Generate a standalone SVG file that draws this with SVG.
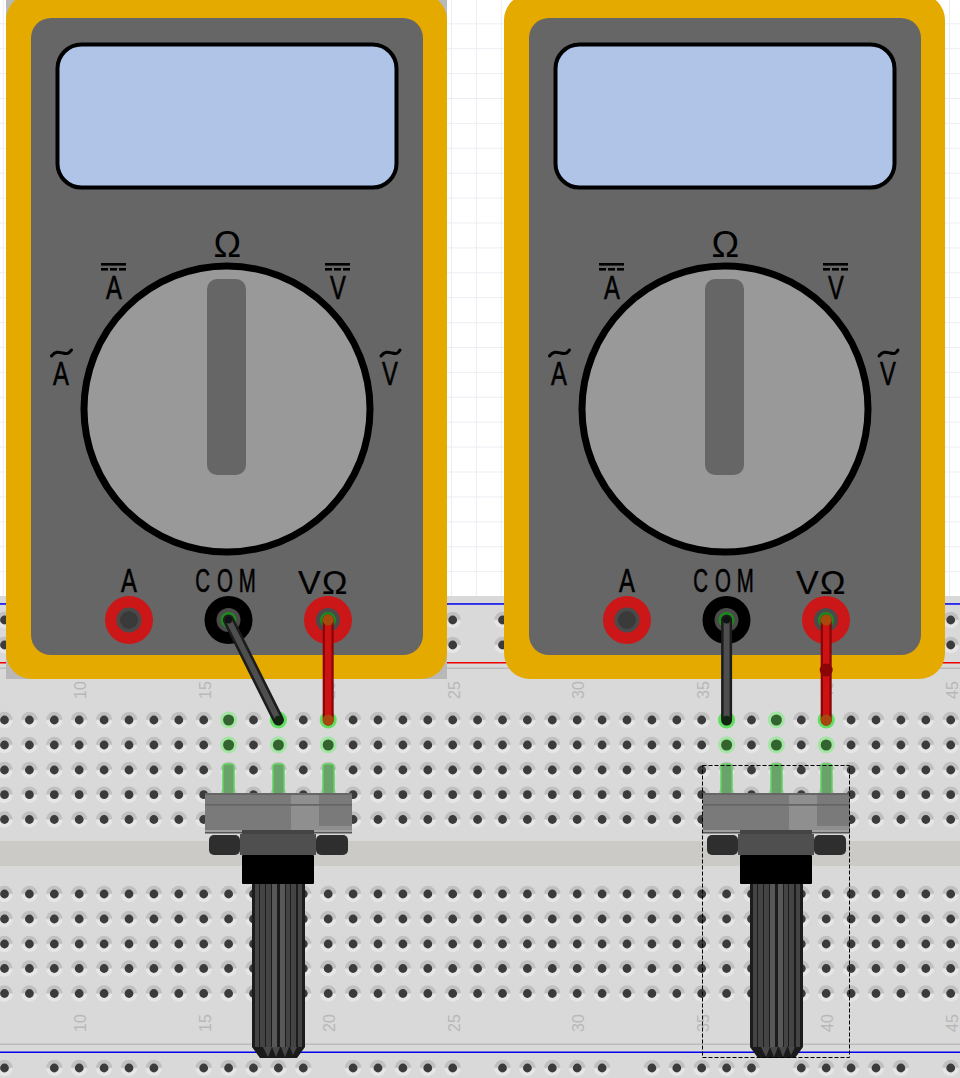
<svg xmlns="http://www.w3.org/2000/svg" xmlns:xlink="http://www.w3.org/1999/xlink" width="960" height="1078" viewBox="0 0 960 1078">
<style>
.num{font-family:"Liberation Sans",Arial,sans-serif;font-size:16px;fill:#b8b8b8;text-anchor:middle}
.lab{font-family:"Liberation Sans",Arial,sans-serif;font-size:33px;fill:#000;stroke:#000;stroke-width:.6}
.mid{text-anchor:middle}
.tld{fill:none;stroke:#000;stroke-width:3;stroke-linecap:round}
.wb{fill:none;stroke:#1c1c1c;stroke-width:11;stroke-linecap:round}
.wbi{fill:none;stroke:#4e4e4e;stroke-width:6;stroke-linecap:round}
.wr{fill:none;stroke:#8a0505;stroke-width:11;stroke-linecap:round}
.wri{fill:none;stroke:#cc1212;stroke-width:6.5;stroke-linecap:round}
.leg{fill:#6aa36a;stroke:#5fd45f;stroke-width:1.5}
</style>
<defs>
<pattern id="grid" width="24.9" height="24.9" patternUnits="userSpaceOnUse" x="2.8" y="-1.6">
<path d="M0 0H24.9M0 0V24.9" fill="none" stroke="#e6e9ef" stroke-width="1.6"/>
</pattern>
<linearGradient id="hg" x1="0" y1="0" x2="0" y2="1">
<stop offset="0.45" stop-color="#c0c0c0"/><stop offset="0.55" stop-color="#e6e6e6"/>
</linearGradient>
<g id="h"><circle r="8.300" fill="url(#hg)"/><circle r="4.400" fill="#3b3b3b"/></g>
<g id="h5"><use xlink:href="#h"/><use xlink:href="#h" x="24.9"/><use xlink:href="#h" x="49.8"/><use xlink:href="#h" x="74.7"/><use xlink:href="#h" x="99.6"/></g>
<g id="row"><use xlink:href="#h5"/><use xlink:href="#h5" x="124.5"/><use xlink:href="#h5" x="249"/><use xlink:href="#h5" x="373.5"/><use xlink:href="#h5" x="498"/><use xlink:href="#h5" x="622.5"/><use xlink:href="#h5" x="747"/><use xlink:href="#h5" x="871.5"/></g>
<g id="rail"><use xlink:href="#h5" x="-95.1"/><use xlink:href="#h5" x="54.3"/><use xlink:href="#h5" x="203.7"/><use xlink:href="#h5" x="353.1"/><use xlink:href="#h5" x="502.5"/><use xlink:href="#h5" x="651.9"/><use xlink:href="#h5" x="801.3"/><use xlink:href="#h5" x="950.7"/></g>
<g id="gh"><circle r="8.500" fill="#a3e5a3"/><circle r="5.500" fill="#33632f"/></g>
<g id="jack-in"><circle r="12" fill="#4a4a4a"/><circle r="6.500" fill="#2f2f2f" stroke="#1c8a1c" stroke-width="3"/></g>
<g id="meter-body">
<rect x="6" y="-6" width="441" height="685" rx="26" fill="#e5aa00"/>
<rect x="31" y="18" width="392" height="637" rx="20" fill="#666"/>
<rect x="57.500" y="44.500" width="339" height="143" rx="24" fill="#b0c4e8" stroke="#000" stroke-width="4"/>
<circle cx="227" cy="409" r="143" fill="#999" stroke="#000" stroke-width="7"/>
<rect x="207" y="279" width="39" height="196" rx="10" fill="#666"/>
<g fill="#000">
<rect x="101" y="263" width="25" height="2.6"/><rect x="101" y="268" width="7" height="2.6"/><rect x="110" y="268" width="7" height="2.6"/><rect x="119" y="268" width="7" height="2.6"/>
<rect x="325" y="263" width="25" height="2.6"/><rect x="325" y="268" width="7" height="2.6"/><rect x="334" y="268" width="7" height="2.6"/><rect x="343" y="268" width="7" height="2.6"/>
</g>
<path class="tld" d="M51.500 356c4-5 7-4 11-3s6 1 9-3"/>
<path class="tld" d="M381 356c4-5 7-4 11-3s6 1 8-3"/>
<circle cx="129" cy="620" r="24" fill="#cc1719"/><circle cx="129" cy="620" r="12.500" fill="#4a4a4a"/><circle cx="129" cy="620" r="9" fill="#3a3a3a"/>
<circle cx="228.500" cy="620" r="24" fill="#000"/>
<circle cx="328" cy="620" r="24" fill="#cc1719"/>
</g>
<g id="pot-body">
<rect x="252" y="884" width="53" height="163" fill="#1c1c1c"/>
<g fill="#444">
<rect x="255" y="884" width="4" height="163"/><rect x="260" y="884" width="5" height="163"/><rect x="266" y="884" width="5" height="163"/><rect x="272" y="884" width="5" height="163" fill="#585858"/><rect x="280" y="884" width="5" height="163" fill="#585858"/><rect x="286" y="884" width="4" height="163"/><rect x="291" y="884" width="5" height="163"/><rect x="298" y="884" width="4" height="163"/>
</g>
<path d="M252 1047H305L297 1058H260Z" fill="#1a1a1a"/>
<path d="M263 1047L268 1057 272 1047ZM272 1047L276 1057 280 1047ZM281 1047L285 1057 289 1047ZM290 1047L293 1055 297 1047Z" fill="#484848"/>
<rect x="205" y="793" width="147" height="40" fill="#7a7a7a"/>
<rect x="205" y="793" width="147" height="2" fill="#666"/>
<rect x="291" y="795" width="28" height="35" fill="#8f8f8f"/>
<rect x="319" y="826" width="33" height="4" fill="#8f8f8f"/>
<rect x="205" y="804" width="147" height="1.800" fill="#666"/>
<rect x="205" y="830" width="147" height="3" fill="#a0a0a0"/>
<rect x="205" y="832" width="147" height="1.500" fill="#555"/>
<rect x="242" y="830" width="72" height="5" fill="#444"/>
<rect x="240" y="834" width="76" height="21" fill="#4f4f4f"/>
<rect x="209" y="835" width="31" height="20" rx="5" fill="#2e2e2e"/>
<rect x="316" y="835" width="32" height="20" rx="5" fill="#2e2e2e"/>
<rect x="242" y="855" width="72" height="29" rx="1" fill="#000"/>
</g>
<g id="legs">
<rect class="leg" x="223" y="764" width="11" height="31" rx="3"/>
<rect class="leg" x="273" y="764" width="11" height="31" rx="3"/>
<rect class="leg" x="323" y="764" width="11" height="31" rx="3"/>
</g>
</defs>

<rect id="background" width="960" height="1078" fill="#fff"/>
<rect width="960" height="600" fill="url(#grid)"/>

<g id="breadboard">
<rect y="596" width="960" height="482" fill="#d9d9d9"/>
<rect y="841" width="960" height="25" fill="#cbcac6"/>
<rect y="603.200" width="960" height="1.500" fill="#0000ee"/>
<rect y="662" width="960" height="1.500" fill="#ee0000"/>
<rect y="667.500" width="960" height="1.500" fill="#bcbcbc"/>
<rect y="1043.500" width="960" height="1.500" fill="#bcbcbc"/>
<rect y="1051.500" width="960" height="1.500" fill="#0000ee"/>
<use xlink:href="#rail" y="620"/><use xlink:href="#rail" y="645"/><use xlink:href="#rail" y="1068"/>
<use xlink:href="#row" x="4.500" y="720"/><use xlink:href="#row" x="4.500" y="745"/><use xlink:href="#row" x="4.500" y="770"/><use xlink:href="#row" x="4.500" y="794.700"/><use xlink:href="#row" x="4.500" y="819.500"/>
<use xlink:href="#row" x="4.500" y="894"/><use xlink:href="#row" x="4.500" y="919"/><use xlink:href="#row" x="4.500" y="944"/><use xlink:href="#row" x="4.500" y="968.500"/><use xlink:href="#row" x="4.500" y="993.500"/>
<g>
<text class="num" transform="translate(80.500,690) rotate(-90)" y="5.500">10</text>
<text class="num" transform="translate(205,690) rotate(-90)" y="5.500">15</text>
<text class="num" transform="translate(329.500,690) rotate(-90)" y="5.500">20</text>
<text class="num" transform="translate(454,690) rotate(-90)" y="5.500">25</text>
<text class="num" transform="translate(578.500,690) rotate(-90)" y="5.500">30</text>
<text class="num" transform="translate(703,690) rotate(-90)" y="5.500">35</text>
<text class="num" transform="translate(827.500,690) rotate(-90)" y="5.500">40</text>
<text class="num" transform="translate(952,690) rotate(-90)" y="5.500">45</text>
<text class="num" transform="translate(80.500,1023) rotate(-90)" y="5.500">10</text>
<text class="num" transform="translate(205,1023) rotate(-90)" y="5.500">15</text>
<text class="num" transform="translate(329.500,1023) rotate(-90)" y="5.500">20</text>
<text class="num" transform="translate(454,1023) rotate(-90)" y="5.500">25</text>
<text class="num" transform="translate(578.500,1023) rotate(-90)" y="5.500">30</text>
<text class="num" transform="translate(703,1023) rotate(-90)" y="5.500">35</text>
<text class="num" transform="translate(827.500,1023) rotate(-90)" y="5.500">40</text>
<text class="num" transform="translate(952,1023) rotate(-90)" y="5.500">45</text>
</g>
<g id="green-holes">
<use xlink:href="#gh" x="228.600" y="720"/><use xlink:href="#gh" x="278.400" y="720"/><use xlink:href="#gh" x="328.200" y="720"/>
<use xlink:href="#gh" x="228.600" y="745"/><use xlink:href="#gh" x="278.400" y="745"/><use xlink:href="#gh" x="328.200" y="745"/>
<use xlink:href="#gh" x="726.600" y="720"/><use xlink:href="#gh" x="776.400" y="720"/><use xlink:href="#gh" x="826.200" y="720"/>
<use xlink:href="#gh" x="726.600" y="745"/><use xlink:href="#gh" x="776.400" y="745"/><use xlink:href="#gh" x="826.200" y="745"/>
</g>
</g>

<g id="multimeter-1">
<rect x="6" y="0" width="441" height="679" fill="#b8b8b8"/>
<use xlink:href="#meter-body"/>
<use xlink:href="#jack-in" x="228.500" y="620"/><use xlink:href="#jack-in" x="328" y="620"/>
<text class="lab" x="213.500" y="257" style="font-size:37px;stroke-width:0">Ω</text>
<text class="lab mid" transform="translate(114,299) scale(.72,1)">A</text>
<text class="lab mid" transform="translate(61,385) scale(.72,1)">A</text>
<text class="lab mid" transform="translate(338,299) scale(.72,1)">V</text>
<text class="lab mid" transform="translate(390,385) scale(.72,1)">V</text>
<text class="lab mid" transform="translate(129,592) scale(.72,1)">A</text>
<text class="lab" transform="translate(0,592) scale(.62,1)" x="315 350 385">COM</text>
<text class="lab" x="298 322" y="594" style="font-size:34px;stroke-width:.2">VΩ</text>
</g>

<g id="multimeter-2">
<use xlink:href="#meter-body" x="498"/>
<use xlink:href="#jack-in" x="726.500" y="620"/><use xlink:href="#jack-in" x="826" y="620"/>
<g transform="translate(498,0)">
<text class="lab" x="213.500" y="257" style="font-size:37px;stroke-width:0">Ω</text>
<text class="lab mid" transform="translate(114,299) scale(.72,1)">A</text>
<text class="lab mid" transform="translate(61,385) scale(.72,1)">A</text>
<text class="lab mid" transform="translate(338,299) scale(.72,1)">V</text>
<text class="lab mid" transform="translate(390,385) scale(.72,1)">V</text>
<text class="lab mid" transform="translate(129,592) scale(.72,1)">A</text>
<text class="lab" transform="translate(0,592) scale(.62,1)" x="315 350 385">COM</text>
<text class="lab" x="298 322" y="594" style="font-size:34px;stroke-width:.2">VΩ</text>
</g>
</g>

<g id="potentiometer-1">
<use xlink:href="#legs"/>
<use xlink:href="#pot-body"/>
</g>
<g id="potentiometer-2">
<use xlink:href="#legs" x="498"/>
<use xlink:href="#pot-body" x="498"/>
</g>

<g id="connectors">
<circle cx="278.400" cy="720" r="8.500" fill="#5fe05f"/>
<circle cx="328.200" cy="720" r="8.500" fill="#5fe05f"/>
<circle cx="726.600" cy="720" r="8.500" fill="#5fe05f"/>
<circle cx="826.200" cy="720" r="8.500" fill="#5fe05f"/>
<path class="wb" d="M228.500 620L278.400 720"/><path class="wbi" d="M228.500 620L278.400 720"/>
<circle cx="228.500" cy="620" r="3.500" fill="#111"/><circle cx="278.400" cy="720" r="4.200" fill="#102810"/>
<path class="wb" d="M726.600 620V720"/><path class="wbi" d="M726.600 620V720"/>
<circle cx="726.600" cy="620" r="3.500" fill="#111"/><circle cx="726.600" cy="720" r="4.200" fill="#102810"/>
<path class="wr" d="M328.200 620V720"/><path class="wri" d="M328.200 620V720"/>
<circle cx="328.200" cy="620" r="5.500" fill="#a8480f"/><circle cx="328.200" cy="720" r="5.500" fill="#a8480f"/>
<path class="wr" d="M826.200 620V720"/><path class="wri" d="M826.200 620V720"/>
<circle cx="826.200" cy="620" r="5.500" fill="#a8480f"/><circle cx="826.200" cy="720" r="5.500" fill="#a8480f"/>
<circle cx="826.200" cy="670" r="6.500" fill="#8a0505"/>
</g>

<rect id="selection" x="702.500" y="765.500" width="147" height="292" fill="none" stroke="#000" stroke-width="1" stroke-dasharray="4 2"/>
</svg>
